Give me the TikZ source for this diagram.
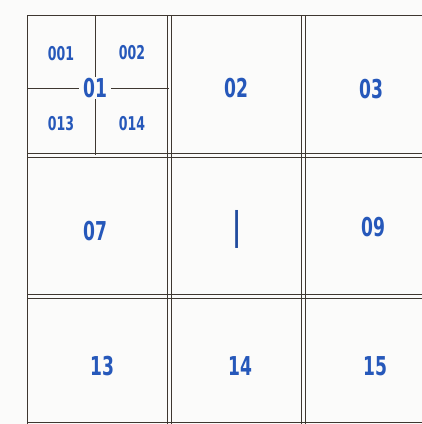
\documentclass[tikz,border=0pt]{standalone}
\usepackage{fontspec}
\newfontfamily\sheetfont[FakeStretch=0.66]{DejaVu Sans}
\definecolor{ink}{RGB}{38,88,186}
\definecolor{rule}{RGB}{62,55,48}
\definecolor{paper}{RGB}{251,251,250}
\begin{document}
\begin{tikzpicture}[
  x=1pt, y=-1pt,
  grid/.style={draw=rule, line width=1pt},
  sheet/.style={text=ink, font=\sheetfont\bfseries\fontsize{26}{26}\selectfont, inner sep=1pt},
  subsheet/.style={text=ink, font=\sheetfont\bfseries\fontsize{19}{19}\selectfont, inner sep=1pt},
]
  \useasboundingbox[fill=paper] (0,0) rectangle (422,424);

  % double lines between the sheets
  \foreach \x in {167,171,301,305}
    \draw[grid] (\x,15) -- (\x,424);
  \foreach \y in {153,157,294,298}
    \draw[grid] (27,\y) -- (422,\y);
  \draw[grid] (27,424) -- (27,15) -- (422,15);
  \draw[grid] (27,422) -- (422,422);

  % quarters of sheet 01
  \draw[grid] (95,15) -- (95,155);
  \draw[grid] (27,88) -- (169,88);
  \node[subsheet] (q001) at (61,54) {001};
  \node[subsheet] (q002) at (132,53) {002};
  \node[subsheet] (q013) at (61,124) {013};
  \node[subsheet] (q014) at (132,124) {014};
  \node[sheet, fill=paper, inner xsep=4pt] (s01) at (95,88) {01};

  \node[sheet] (s02) at (236,88) {02};
  \node[sheet] (s03) at (371,89) {03};
  \node[sheet] (s07) at (95,231) {07};
  \node[sheet, font=\sheetfont\bfseries\fontsize{38}{38}\selectfont, text=ink!85!black] (s08) at (237,229) {|};
  \node[sheet] (s09) at (373,227) {09};
  \node[sheet] (s13) at (102,366) {13};
  \node[sheet] (s14) at (240,366) {14};
  \node[sheet] (s15) at (375,366) {15};
\end{tikzpicture}
\end{document}
